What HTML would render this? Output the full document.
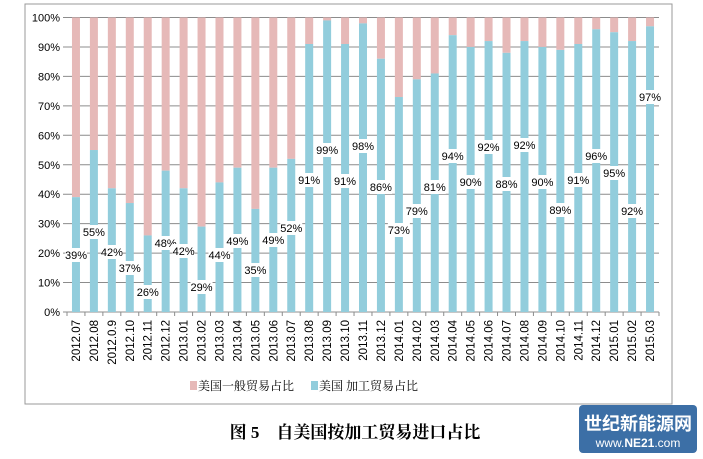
<!DOCTYPE html>
<html><head><meta charset="utf-8"><style>
body{margin:0;background:#fff;}
svg{display:block;font-family:"Liberation Sans","Noto Sans CJK SC",sans-serif;}
</style></head><body>
<svg id="s" width="703" height="459" viewBox="0 0 703 459" xmlns="http://www.w3.org/2000/svg">
<rect x="25" y="4" width="647" height="400" fill="#fff" stroke="#9a9a9a" stroke-width="1"/>
<g id="grid" stroke="#8c8c8c" stroke-width="1"></g>
<g id="bars"></g>
<g id="labels" font-size="11" fill="#000" text-anchor="middle"></g>
<g id="ylab" font-size="11" fill="#000" text-anchor="end"></g>
<g id="xlab" font-size="11.5" fill="#000" text-anchor="end"></g>
<rect x="190" y="381" width="7" height="9" fill="#e6b9b8"/>
<text x="198" y="390" font-size="12" font-family="'Liberation Serif','Noto Serif CJK SC',serif">美国一般贸易占比</text>
<rect x="311" y="381" width="7" height="9" fill="#92cddc"/>
<text x="319" y="390" font-size="12" font-family="'Liberation Serif','Noto Serif CJK SC',serif">美国 加工贸易占比</text>
<text x="355" y="438" font-size="17" font-weight="bold" text-anchor="middle" font-family="'Liberation Serif','Noto Serif CJK SC',serif">图 5　自美国按加工贸易进口占比</text>
<rect x="579" y="405" width="118" height="48" rx="4" fill="#3c6fa6"/>
<text x="638" y="430" font-size="18" font-weight="bold" fill="#fff" text-anchor="middle" font-family="'Liberation Sans','Noto Sans CJK SC',sans-serif">世纪新能源网</text>
<text x="638" y="447" font-size="12" fill="#fff" text-anchor="middle">www.<tspan font-weight="bold">NE21</tspan>.com</text>
</svg>
<script>
var ns="http://www.w3.org/2000/svg";
var v=[39,55,42,37,26,48,42,29,44,49,35,49,52,91,99,91,98,86,73,79,81,94,90,92,88,92,90,89,91,96,95,92,97];
var ly=[255,232,252,268,292,243,251,287,255,241,270,240,228,180,150,181,146,187,230,211,187,156,182,147,184,145,182,210,180,156,173,211,97];
var xl=["2012.07","2012.08","2012.0.9","2012.10","2012.11","2012.12","2013.01","2013.02","2013.03","2013.04","2013.05","2013.06","2013.07","2013.08","2013.09","2013.10","2013.11","2013.12","2014.01","2014.02","2014.03","2014.04","2014.05","2014.06","2014.07","2014.08","2014.09","2014.10","2014.11","2014.12","2015.01","2015.02","2015.03"];
function el(p,t,a,txt){var e=document.createElementNS(ns,t);for(var k in a)e.setAttribute(k,a[k]);if(txt!=null)e.textContent=txt;document.getElementById(p).appendChild(e);return e;}
var X0=67,X1=659,Y0=17.5,YB=312,W=(X1-X0)/33,H=YB-Y0;
for(var i=0;i<=10;i++){var y=YB-H*i/10;el("grid","line",{x1:63,x2:X1,y1:y,y2:y});el("ylab","text",{x:60,y:y+4},(i*10)+"%");}
for(var i=0;i<=33;i++){var x=X0+W*i;el("grid","line",{x1:x,x2:x,y1:YB,y2:YB+4});}
for(var i=0;i<33;i++){
 var cx=X0+W*(i+0.5),bh=H*v[i]/100;
 el("bars","rect",{x:cx-4,y:Y0,width:8,height:H-bh,fill:"#e6b9b8"});
 el("bars","rect",{x:cx-4,y:YB-bh,width:8,height:bh,fill:"#92cddc"});
 el("labels","rect",{x:cx-11,y:ly[i]-7,width:22,height:14,fill:"#fff"});
 el("labels","text",{x:cx,y:ly[i]+4},v[i]+"%");
 el("xlab","text",{x:0,y:0,transform:"translate("+(cx+4)+",320) rotate(-90)"},xl[i]);
}
</script>
</body></html>
